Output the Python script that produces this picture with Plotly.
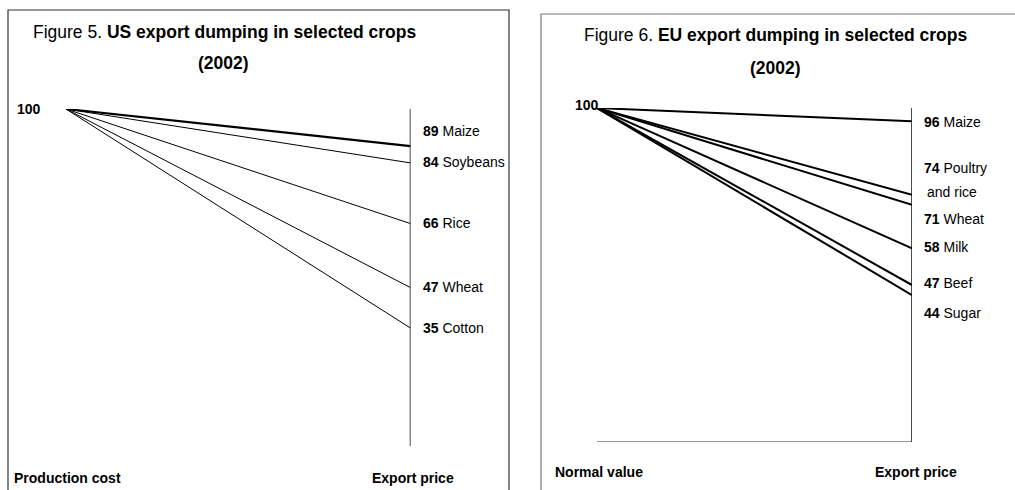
import plotly.graph_objects as go

W, H = 1015, 490

# ---- data ----
us_crops = ["Maize", "Soybeans", "Rice", "Wheat", "Cotton"]
us_values = [89, 84, 66, 47, 35]
eu_crops = ["Maize", "Poultry", "Wheat", "Milk", "Beef", "Sugar"]
eu_values = [96, 74, 71, 58, 47, 44]
base_value = 100
us_title = ["Figure 5. ", "US export dumping in selected crops", "(2002)"]
eu_title = ["Figure 6. ", "EU export dumping in selected crops", "(2002)"]
us_axis_labels = ["Production cost", "Export price"]
eu_axis_labels = ["Normal value", "Export price"]

# ---- styling (pixel offsets for label placement) ----
us_label_shift = [15, 1, 1, 1, 0]
us_widths = [2.2, 1, 1, 1, 1]
eu_label_shift = [-1, 27, -14, 1, 2, -18]
eu_widths = [2, 2, 2, 2, 2, 2]

FONT = "Liberation Sans, Arial, sans-serif"


def px(x):
    return x / W


def py(y):
    return 1 - y / H


fig = go.Figure()

# US lines
for c, v, w in zip(us_crops, us_values, us_widths):
    fig.add_trace(go.Scatter(x=[0, 1], y=[base_value, v], mode="lines",
                             line=dict(color="black", width=w),
                             xaxis="x", yaxis="y", hoverinfo="skip", showlegend=False))
# EU lines
for c, v, w in zip(eu_crops, eu_values, eu_widths):
    fig.add_trace(go.Scatter(x=[0, 1], y=[base_value, v], mode="lines",
                             line=dict(color="black", width=w),
                             xaxis="x2", yaxis="y2", hoverinfo="skip", showlegend=False))

ax_common = dict(visible=False, fixedrange=True)
fig.update_layout(
    width=W, height=H, autosize=False,
    margin=dict(l=0, r=0, t=0, b=0),
    paper_bgcolor="white", plot_bgcolor="rgba(0,0,0,0)",
    xaxis=dict(domain=[px(66), px(410.5)], range=[0, 1], anchor="y", **ax_common),
    yaxis=dict(domain=[py(446), py(109)], range=[0, 100], anchor="x", **ax_common),
    xaxis2=dict(domain=[px(597), px(912)], range=[0, 1], anchor="y2", **ax_common),
    yaxis2=dict(domain=[py(442), py(108)], range=[0, 100], anchor="x2", **ax_common),
)

shapes = []
# panel borders
shapes.append(dict(type="rect", xref="paper", yref="paper", x0=px(8), x1=px(509),
                   y0=-0.1, y1=py(10), line=dict(color="#333333", width=1.2)))
shapes.append(dict(type="rect", xref="paper", yref="paper", x0=px(541), x1=1.05,
                   y0=-0.1, y1=py(14), line=dict(color="#777777", width=1.2)))
# US axes
shapes.append(dict(type="line", xref="x", yref="y", x0=1, x1=1, y0=-0.3, y1=100,
                   line=dict(color="#111111", width=1.5)))
shapes.append(dict(type="line", xref="x", yref="y", x0=0, x1=1, y0=-0.3, y1=-0.3,
                   line=dict(color="#111111", width=1.5)))
# EU axes
shapes.append(dict(type="line", xref="x2", yref="y2", x0=1, x1=1, y0=-1.8, y1=100,
                   line=dict(color="#111111", width=1.5)))
shapes.append(dict(type="line", xref="x2", yref="y2", x0=-0.006, x1=1, y0=0, y1=0,
                   line=dict(color="#333333", width=1.2)))
shapes.append(dict(type="line", xref="x2", yref="y2", x0=-0.006, x1=-0.006, y0=0, y1=-1.8,
                   line=dict(color="#333333", width=1.2)))
fig.update_layout(shapes=shapes)

ann = []
tf = dict(family=FONT, size=17.5, color="black")
lf = dict(family=FONT, size=14, color="black")

# titles
ann.append(dict(xref="paper", yref="paper", x=px(224), y=py(32), showarrow=False,
                xanchor="center", yanchor="middle",
                text=us_title[0] + "<b>" + us_title[1] + "</b>", font=tf))
ann.append(dict(xref="paper", yref="paper", x=px(223), y=py(63), showarrow=False,
                xanchor="center", yanchor="middle",
                text="<b>" + us_title[2] + "</b>", font=tf))
ann.append(dict(xref="paper", yref="paper", x=px(775), y=py(35), showarrow=False,
                xanchor="center", yanchor="middle",
                text=eu_title[0] + "<b>" + eu_title[1] + "</b>", font=tf))
ann.append(dict(xref="paper", yref="paper", x=px(775), y=py(68), showarrow=False,
                xanchor="center", yanchor="middle",
                text="<b>" + eu_title[2] + "</b>", font=tf))

# 100 labels
ann.append(dict(xref="x", yref="y", x=0, y=base_value, showarrow=False, xanchor="right",
                yanchor="middle", xshift=-23, text="<b>%d</b>" % base_value, font=lf))
ann.append(dict(xref="x2", yref="y2", x=0, y=base_value, showarrow=False, xanchor="right",
                yanchor="middle", xshift=4, yshift=3, text="<b>%d</b>" % base_value, font=lf))

# end labels US
for c, v, s in zip(us_crops, us_values, us_label_shift):
    ann.append(dict(xref="x", yref="y", x=1, y=v, showarrow=False, xanchor="left",
                    yanchor="middle", xshift=10, yshift=s,
                    text="<b>%d</b> %s" % (v, c), font=lf))
# end labels EU
for c, v, s in zip(eu_crops, eu_values, eu_label_shift):
    ann.append(dict(xref="x2", yref="y2", x=1, y=v, showarrow=False, xanchor="left",
                    yanchor="middle", xshift=10, yshift=s,
                    text="<b>%d</b> %s" % (v, c), font=lf))
    if c == "Poultry":
        ann.append(dict(xref="x2", yref="y2", x=1, y=v, showarrow=False, xanchor="left",
                        yanchor="middle", xshift=13, yshift=s - 24,
                        text="and rice", font=lf))

# bottom labels
ann.append(dict(xref="paper", yref="paper", x=px(12), y=py(478), showarrow=False,
                xanchor="left", yanchor="middle",
                text="<b>" + us_axis_labels[0] + "</b>", font=lf))
ann.append(dict(xref="paper", yref="paper", x=px(370), y=py(478), showarrow=False,
                xanchor="left", yanchor="middle",
                text="<b>" + us_axis_labels[1] + "</b>", font=lf))
ann.append(dict(xref="paper", yref="paper", x=px(553), y=py(472), showarrow=False,
                xanchor="left", yanchor="middle",
                text="<b>" + eu_axis_labels[0] + "</b>", font=lf))
ann.append(dict(xref="paper", yref="paper", x=px(873), y=py(472), showarrow=False,
                xanchor="left", yanchor="middle",
                text="<b>" + eu_axis_labels[1] + "</b>", font=lf))

fig.update_layout(annotations=ann)
fig.write_html("out.html", config={"displayModeBar": False},
               post_script="document.body.style.margin='0';")
